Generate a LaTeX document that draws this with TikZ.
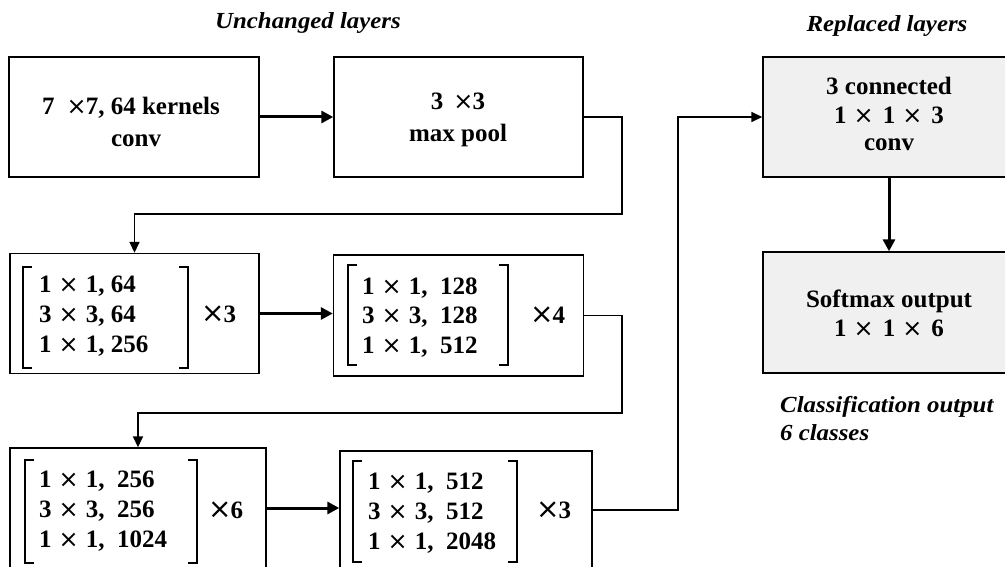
\documentclass[tikz,border=0pt]{standalone}
\usepackage{fontspec}
\setmainfont{Liberation Serif}
\newfontfamily\boxfont{Liberation Serif}
\newfontfamily\headfont[FakeStretch=1.08]{Liberation Serif}
\newfontfamily\symfont{DejaVu Sans}
\usetikzlibrary{arrows.meta}
\definecolor{boxgray}{RGB}{240,240,240}
\newcommand\tms{{\symfont\mdseries\fontsize{24}{24}\selectfont ×}}
\newcommand\tmsbig{{\symfont\mdseries\fontsize{28}{28}\selectfont ×}}
\newcommand\tmsp{\hspace{7pt}\tms\hspace{7pt}}
\newcommand\tmsq{\hspace{7pt}\tms\hspace{9pt}}
\newcommand\stackc[1]{\begin{tabular}[t]{@{}c@{}}#1\end{tabular}}
\newcommand\stackl[1]{\begin{tabular}[t]{@{}l@{}}#1\end{tabular}}
\newcommand\drawbrackets[4]{%
  \draw[brk] (#1+9,#3) -- (#1,#3) -- (#1,#4) -- (#1+9,#4);
  \draw[brk] (#2-9,#3) -- (#2,#3) -- (#2,#4) -- (#2-9,#4);}
\begin{document}
\begin{tikzpicture}[x=1pt,y=-1pt,
  layer/.style={draw=black, line width=1.4pt, inner sep=0pt, fill=white},
  newlayer/.style={layer, fill=boxgray},
  boxtxt/.style={font=\boxfont\bfseries\fontsize{25}{#1}\selectfont, inner sep=0pt},
  boxtxt/.default=30,
  head/.style={font=\headfont\bfseries\itshape\fontsize{23}{28}\selectfont, inner sep=0pt},
  brk/.style={line width=1.4pt},
  flow/.style={line width=3pt, -{Triangle[length=12pt,width=12pt]}},
  link/.style={line width=1.6pt, -{Triangle[length=11pt,width=10pt]}}]
\useasboundingbox (0,0) rectangle (1005,567);
\clip (0,0) rectangle (1005,567);

% headings
\node[head, anchor=base] (h1) at (308,29) {Unchanged layers};
\node[head, anchor=base] (h2) at (887,32) {Replaced layers};

% boxes
\node[layer, minimum width=250pt, minimum height=120pt] (b1) at (134,117) {};
\node[layer, minimum width=249pt, minimum height=120pt] (b2) at (458.5,117) {};
\node[layer, minimum width=249pt, minimum height=120pt] (b3) at (134.5,313.5) {};
\node[layer, minimum width=250pt, minimum height=121pt] (b4) at (458.5,315.5) {};
\node[layer, minimum width=256pt, minimum height=120pt] (b5) at (138,508) {};
\node[layer, minimum width=252pt, minimum height=118pt] (b6) at (466,510) {};
\node[newlayer, minimum width=252pt, minimum height=120pt] (b7) at (889,117) {};
\node[newlayer, minimum width=252pt, minimum height=121pt] (b8) at (889,312.5) {};

% texts
\node[boxtxt=32, anchor=base] (t1) at (131,115)
  {\stackc{7\hspace{12pt}\tms\hspace{-1pt}7, 64 kernels\\\hspace{10pt}conv}};
\node[boxtxt=32, anchor=base] (t2) at (458,110)
  {\stackc{3\hspace{10pt}\tms\hspace{-1pt}3\\max pool}};
\node[boxtxt, anchor=base west] (t3) at (39,292)
  {\stackl{1\tmsp 1, 64\\3\tmsp 3, 64\\1\tmsp 1, 256}};
\node[boxtxt, anchor=base west] (t4) at (362,294)
  {\stackl{1\tmsp 1,~~128\\3\tmsp 3,~~128\\1\tmsp 1,~~512}};
\node[boxtxt, anchor=base west] (t5) at (39,487)
  {\stackl{1\tmsp 1,~~256\\3\tmsp 3,~~256\\1\tmsp 1,~~1024}};
\node[boxtxt, anchor=base west] (t6) at (368,489)
  {\stackl{1\tmsp 1,~~512\\3\tmsp 3,~~512\\1\tmsp 1,~~2048}};
\node[boxtxt, anchor=base west] (r3) at (201,322) {\tmsbig\hspace{-1pt}3};
\node[boxtxt, anchor=base west] (r4) at (530,323) {\tmsbig\hspace{-1pt}4};
\node[boxtxt, anchor=base west] (r6) at (208,518) {\tmsbig\hspace{-1pt}6};
\node[boxtxt, anchor=base west] (r3b) at (536,518) {\tmsbig\hspace{-1pt}3};
\node[boxtxt=29, anchor=base] (t7) at (889,95)
  {\stackc{3 connected\\1\tmsq 1\tmsq 3\\[-2pt]conv}};
\node[boxtxt=29, anchor=base] (t8) at (889,307)
  {\stackc{Softmax output\\1\tmsq 1\tmsq 6}};
\node[head, anchor=base west] (n1) at (780,412) {Classification output};
\node[head, anchor=base west] (n2) at (780,440) {6 classes};

% brackets
\drawbrackets{23}{188}{267}{368}
\drawbrackets{348}{508}{265}{365}
\drawbrackets{25}{197}{460}{563}
\drawbrackets{353}{517}{461}{562}

% connectors
\coordinate (c1) at (622,214);
\coordinate (c2) at (622,413);
\coordinate (c3) at (678,117);
\draw[flow] (b1.east) -- (b2.west);
\draw[link] (b2.east) -| (c1) -| (b3.north);
\draw[flow] (b3.east) -- (b3.east -| b4.west);
\draw[link] (b4.east) -| (c2) -| (b5.north);
\draw[flow] (b5.east) -- (b5.east -| b6.west);
\draw[link] (b6.east) -| (c3) -- (b7.west);
\draw[flow] (b7.south) -- (b8.north);
\end{tikzpicture}
\end{document}
